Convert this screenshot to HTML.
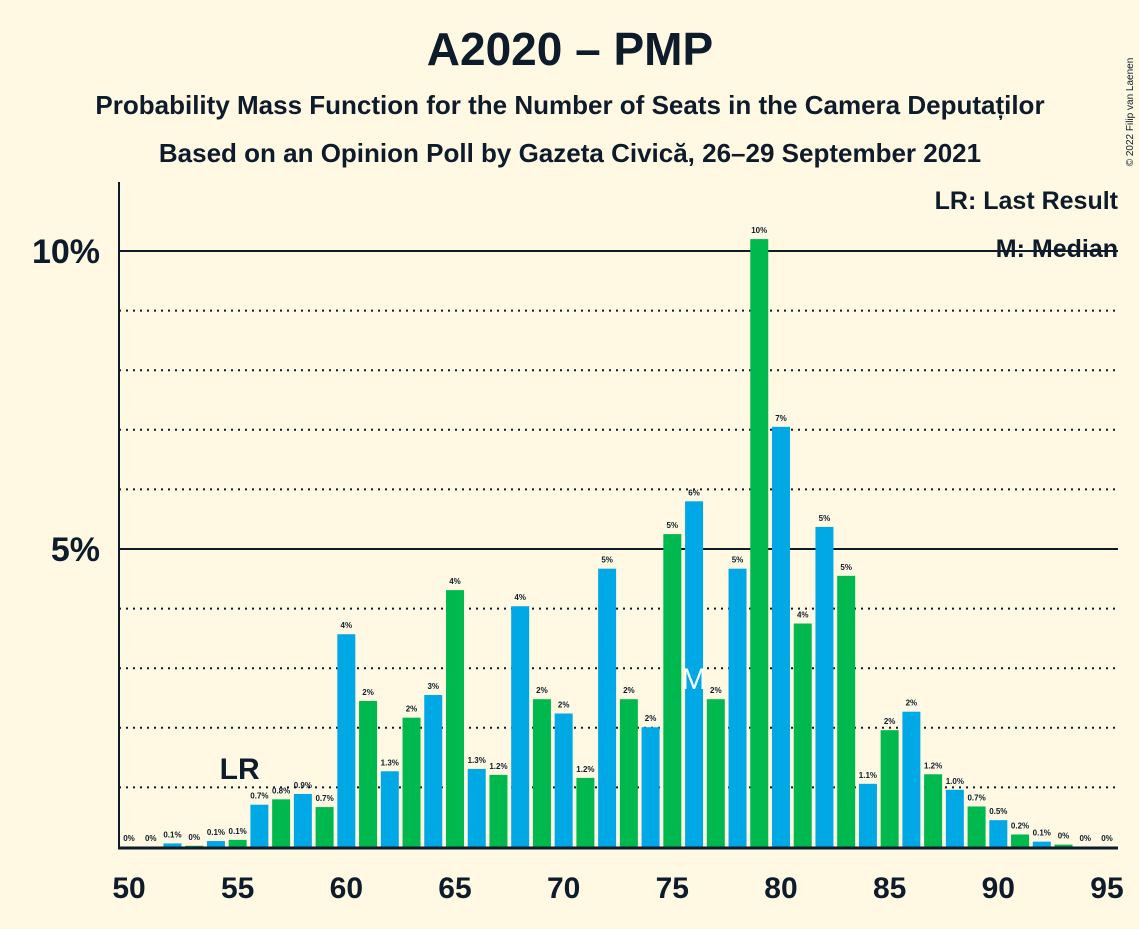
<!DOCTYPE html>
<html><head><meta charset="utf-8"><style>
body{margin:0;background:#FFF9E3;}
svg text{font-family:"Liberation Sans",sans-serif;font-weight:bold;fill:#0d1b2a;}
</style></head><body>
<svg width="1139" height="924" viewBox="0 0 1139 924">
<rect width="1139" height="924" fill="#FFF9E3"/>
<text x="570" y="65" font-size="46" text-anchor="middle">A2020 – PMP</text>
<text x="570" y="114" font-size="26" text-anchor="middle">Probability Mass Function for the Number of Seats in the Camera Deputaților</text>
<text x="570" y="162" font-size="26" text-anchor="middle">Based on an Opinion Poll by Gazeta Civică, 26–29 September 2021</text>
<text x="1133" y="112" font-size="10" transform="rotate(-90 1133 112)" text-anchor="middle" style="font-weight:normal">© 2022 Filip van Laenen</text>
<g id="grid"></g>
<g id="bars"></g>
<g id="labels"></g>
<line x1="119" y1="182" x2="119" y2="848" stroke="#0d1b2a" stroke-width="2"/>
<line x1="118" y1="848" x2="1118" y2="848" stroke="#0d1b2a" stroke-width="3"/>
<text x="1118" y="209" font-size="25" text-anchor="end">LR: Last Result</text>
<text x="1118" y="257" font-size="25" text-anchor="end">M: Median</text>
</svg>
<script>
const seats=[50,51,52,53,54,55,56,57,58,59,60,61,62,63,64,65,66,67,68,69,70,71,72,73,74,75,76,77,78,79,80,81,82,83,84,85,86,87,88,89,90,91,92,93,94,95];
const probs=[0,0,0.06,0.02,0.1,0.12,0.71,0.8,0.89,0.67,3.57,2.45,1.27,2.17,2.55,4.31,1.31,1.21,4.04,2.48,2.24,1.16,4.67,2.48,2.01,5.25,5.8,2.48,4.67,10.2,7.05,3.75,5.37,4.55,1.06,1.96,2.27,1.22,0.96,0.68,0.45,0.21,0.09,0.04,0,0];
const yTicks=[5,10];
const yTickLabels=["5%","10%"];
const xTicks=[50,55,60,65,70,75,80,85,90,95];
const lastResult=55, median=76;
const NS="http://www.w3.org/2000/svg";
const x=s=>129+(s-50)*21.733;
const y=v=>847-v*59.6;
function mk(t,a,p){const e=document.createElementNS(NS,t);for(const k in a)e.setAttribute(k,a[k]);p.appendChild(e);return e;}
const G=document.getElementById('grid'),B=document.getElementById('bars'),L=document.getElementById('labels');
for(let g=1;g<=10;g++){
 const solid=g%5===0;
 const l=mk('line',{x1:119,x2:1118,y1:y(g),y2:y(g),stroke:'#0d1b2a','stroke-width':2,'stroke-dasharray':solid?'':'2,5'},G);
 
 
}
yTicks.forEach((t,i)=>{const e=mk('text',{x:100,y:y(t)+12,'font-size':34,'text-anchor':'end'},L);e.textContent=yTickLabels[i];
 
 });
xTicks.forEach(t=>{const e=mk('text',{x:x(t),y:898,'font-size':30,'text-anchor':'middle'},L);e.textContent=t;
 
 });
seats.forEach((s,i)=>{
 const v=probs[i];
 const r=mk('rect',{x:x(s)-9,y:y(v),width:18,height:847-y(v),fill:s%2===0?'#00A9E6':'#00B94E'},B);
 
 
 let lab;const r1=Math.round(v*10)/10;
 if(v<0.05)lab='0%';else if(r1<2)lab=r1.toFixed(1)+'%';else lab=Math.round(v)+'%';
 const t=mk('text',{x:x(s),y:y(v)-6,'font-size':8,'text-anchor':'middle'},L);t.textContent=lab;
 
 
});
const lr=mk('text',{x:x(lastResult)+2,y:779,'font-size':30,'text-anchor':'middle'},L);lr.textContent='LR';


const m=mk('text',{x:x(median),y:689,'font-size':30,'text-anchor':'middle',style:'fill:#fff;font-weight:normal'},L);m.textContent='M';


</script>
</body></html>
